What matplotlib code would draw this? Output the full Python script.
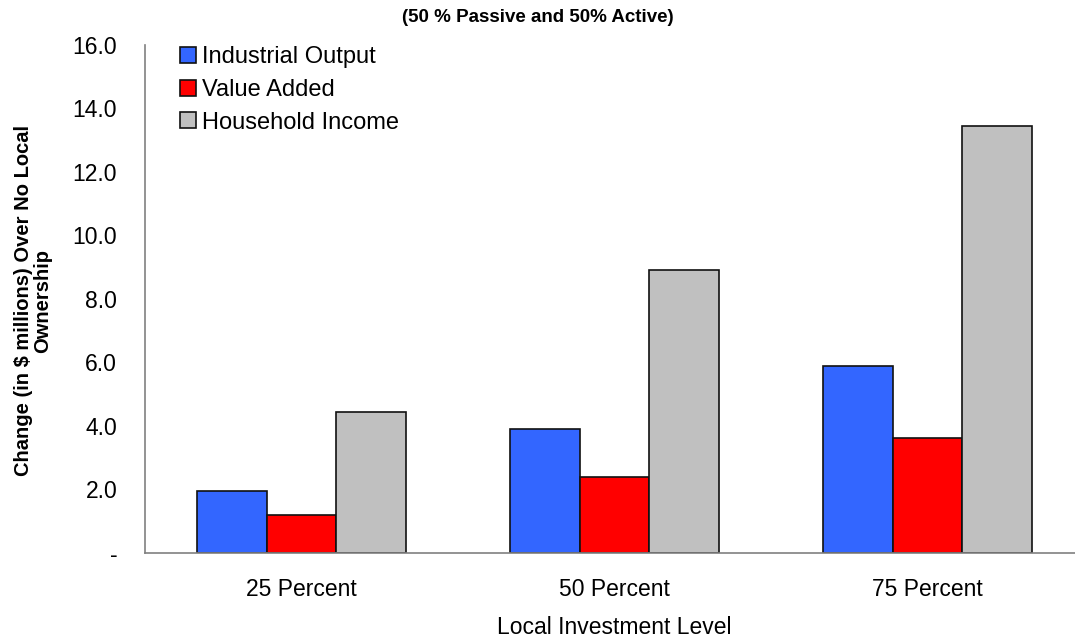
import matplotlib
matplotlib.use("Agg")
import matplotlib.pyplot as plt
import numpy as np
from matplotlib.ticker import FuncFormatter

plt.rcParams['font.family'] = ['Liberation Sans', 'DejaVu Sans']

categories = ["25 Percent", "50 Percent", "75 Percent"]
industrial_output = [1.95, 3.91, 5.89]
value_added = [1.20, 2.39, 3.62]
household_income = [4.44, 8.91, 13.45]
series_names = ["Industrial Output", "Value Added", "Household Income"]
colors = ["#3366FF", "#FF0000", "#C0C0C0"]
yticks = [0, 2, 4, 6, 8, 10, 12, 14, 16]

W, H = 1075, 639
fig = plt.figure(figsize=(W / 100, H / 100), dpi=100)
ax = fig.add_axes([145 / W, (H - 553) / H, 939 / W, 508 / H])

x = np.arange(len(categories))
bw = 0.2236
for i, (vals, name, c) in enumerate(zip([industrial_output, value_added, household_income], series_names, colors)):
    ax.bar(x + (i - 1) * bw, vals, width=bw, color=c, edgecolor="#111111", linewidth=1.2, label=name)

ax.set_xlim(-0.5, 2.5)
ax.set_ylim(0, 16)
ax.set_xticks(x)
ax.set_xticklabels(categories)
ax.set_yticks(yticks)
ax.yaxis.set_major_formatter(FuncFormatter(lambda v, p: "-" if v == 0 else f"{v:.1f}"))
ax.tick_params(axis='both', length=0, labelsize=16.5)
ax.tick_params(axis='y', pad=20)
ax.tick_params(axis='x', pad=18)
for s in ["top", "right"]:
    ax.spines[s].set_visible(False)
for s in ["left", "bottom"]:
    ax.spines[s].set_color("#808080")
    ax.spines[s].set_linewidth(1.2)

ax.set_xlabel("Local Investment Level", fontsize=16.5, labelpad=11)
fig.text(33 / W, 1 - 301 / H, "Change (in $ millions) Over No Local\nOwnership", rotation=90,
         ha="center", va="center", fontsize=14.5, fontweight="bold", linespacing=1.05)
fig.text(0.5, 1 - 17 / H, "(50 % Passive and 50% Active)", ha="center", va="center",
         fontsize=13.5, fontweight="bold")

leg = ax.legend(loc="upper left", bbox_to_anchor=(0.0277, 1.016), frameon=False, fontsize=17,
                handlelength=0.65, handleheight=0.65, handletextpad=0.25, labelspacing=0.45,
                borderaxespad=0)

fig.savefig("out.png", dpi=100)
